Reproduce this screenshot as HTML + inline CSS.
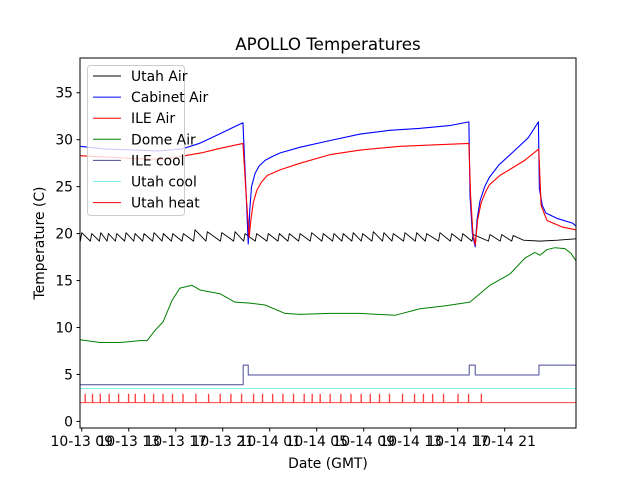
<!DOCTYPE html>
<html><head><meta charset="utf-8"><style>
body{margin:0;background:#fff}
svg{display:block;font-family:"DejaVu Sans","Liberation Sans",sans-serif}
</style></head><body>
<svg id="chart" width="640" height="480" viewBox="0 0 640 480">
<rect width="640" height="480" fill="#fff"/>
<text x="328" y="50" text-anchor="middle" font-size="16.7">APOLLO Temperatures</text>
<text x="328" y="468" text-anchor="middle" font-size="13.9">Date (GMT)</text>
<text transform="translate(44,243) rotate(-90)" text-anchor="middle" font-size="13.9">Temperature (C)</text>
<g id="plot"></g>
<g id="axes"></g>
<g id="legend"></g>
</svg>
<script>
// ---- data (hours since 10-13 09 GMT) ----
const xTickLabels = ["10-13 09","10-13 13","10-13 17","10-13 21","10-14 01","10-14 05","10-14 09","10-14 13","10-14 17","10-14 21"];
const yTicks = [0,5,10,15,20,25,30,35];
const cabinetT = [-0.15,2,4.5,6.5,8.5,10,11.7,13.2,13.72,14.0,14.17,14.3,14.45,14.75,15.1,15.6,16.2,16.9,18.6,21.1,23.7,26.2,28.7,31.3,32.95,33.05,33.25,33.49,33.65,33.9,34.3,34.7,35.5,36.8,38.0,38.87,38.95,39.2,39.5,40.5,41.8,42.07];
const cabinetV = [29.3,29.0,28.9,28.8,29.0,29.6,30.6,31.5,31.8,24,18.9,22.5,25.0,26.4,27.2,27.8,28.2,28.6,29.2,29.9,30.6,31.0,31.2,31.5,31.9,24,20,18.6,21.5,23.5,25.0,26.0,27.3,28.8,30.2,31.9,24.8,23.0,22.2,21.6,21.1,20.8];
const ileT = [-0.15,4.3,6.9,10.2,11.5,13.72,14.0,14.25,14.4,14.6,14.9,15.3,15.8,16.9,18.6,21.1,23.7,27.1,32.95,33.1,33.3,33.5,33.7,34.0,34.4,34.7,35.6,36.4,37.7,38.9,39.1,39.6,40.9,42.07];
const ileV = [28.3,28.0,27.9,28.6,29.0,29.6,24,19.6,21.5,23.3,24.6,25.5,26.2,26.8,27.5,28.4,28.9,29.3,29.6,24,20,18.8,21.5,23.3,24.5,25.2,26.2,26.8,27.8,29.0,23.0,21.4,20.7,20.4];
const domeT = [-0.15,1.56,3.26,4.96,5.56,6.24,6.92,7.69,8.36,9.38,10.06,11.76,13.05,14.32,15.6,17.3,18.58,21.13,23.68,26.66,28.79,30.91,33.04,34.74,36.45,37.73,38.58,39.0,39.6,40.28,41.13,41.64,42.07];
const domeV = [8.7,8.4,8.4,8.6,8.6,9.7,10.6,12.9,14.2,14.5,14.0,13.6,12.7,12.6,12.4,11.5,11.4,11.5,11.5,11.3,12.0,12.3,12.7,14.5,15.7,17.4,18.0,17.7,18.3,18.5,18.4,17.9,17.1];
const utahPeaks = [0,0.85,1.62,2.27,2.98,3.77,4.54,5.3,6.15,6.95,7.75,8.65,9.64,10.69,11.92,13.05,13.9,14.89,15.88,16.82,17.67,18.58,19.57,20.56,21.47,22.26,23.11,23.91,24.82,25.72,26.52,27.51,28.51,29.36,30.49,31.49,32.43,33.33,34.74,35.74,36.72];
const utahPeakV = [20.1,20.0,20.1,20.0,20.0,20.1,20.0,20.0,20.1,20.0,20.0,20.0,20.4,20.2,20.1,20.2,20.0,20.0,20.0,20.0,20.0,20.0,20.1,20.0,20.0,20.0,20.1,20.0,20.2,20.1,20.0,20.1,20.1,20.0,20.1,20.0,20.0,19.9,19.9,19.9,19.8];
const utahTroughV = 19.2;
const utahTailT = [37.6,39.0,40.5,42.07];
const utahTailV = [19.3,19.2,19.3,19.45];
const ileCoolT = [-0.15,13.74,13.74,14.17,14.17,32.98,32.98,33.49,33.49,38.92,38.92,42.07];
const ileCoolV = [3.9,3.9,6.0,6.0,4.95,4.95,6.0,6.0,4.95,4.95,6.0,6.0];
const utahCoolV = 3.5;
const heatBase = 2.0, heatOn = 2.9;
const heatTimes = [0.28,0.9,1.56,2.32,3.12,3.97,4.54,5.33,6.1,6.9,7.71,8.6,9.7,10.78,11.77,12.68,13.59,14.61,15.37,16.23,17.11,18.01,18.92,19.6,20.28,21.13,22.04,22.9,23.77,24.54,25.33,26.18,27.29,28.31,29.07,29.85,30.78,32.01,32.91,34.0];

// ---- axes ----
const L=80,R=576,T=58,B=428, H0=-0.15, H1=42.07, V0=-0.7, V1=38.7;
const X=h=>L+(h-H0)/(H1-H0)*(R-L);
const Y=v=>B-(v-V0)/(V1-V0)*(B-T);
const NS="http://www.w3.org/2000/svg";
function mk(tag,attrs,parent){const e=document.createElementNS(NS,tag);for(const k in attrs)e.setAttribute(k,attrs[k]);parent.appendChild(e);return e;}
const plot=document.getElementById('plot'), axes=document.getElementById('axes'), leg=document.getElementById('legend');
function line(ts,vs,color,name,w){
  const d=ts.map((t,i)=>(i?'L':'M')+X(t).toFixed(2)+','+Y(vs[i]).toFixed(2)).join('');
  const p=mk('path',{d:d,fill:'none',stroke:color,'stroke-width':w||1,'stroke-linejoin':'round'},plot);
  
  
}
// Utah heat
{const ts=[H0],vs=[heatBase];heatTimes.forEach(t=>{ts.push(t,t,t+0.03,t+0.03);vs.push(heatBase,heatOn,heatOn,heatBase);});ts.push(H1);vs.push(heatBase);line(ts,vs,'#ff4040','utah-heat-line',1);}
line([H0,H1],[utahCoolV,utahCoolV],'#7ff0f0','utah-cool-line',1);
line(ileCoolT,ileCoolV,'#4a4a9a','ile-cool-line',1);
line(domeT,domeV,'#008000','dome-air-line',1);
// Utah air sawtooth
{const ts=[H0],vs=[19.9];utahPeaks.forEach((p,i)=>{ts.push(p-0.12,p);vs.push(utahTroughV,utahPeakV[i]);});ts.push(...utahTailT);vs.push(...utahTailV);line(ts,vs,'#000','utah-air-line',0.9);}
line(cabinetT,cabinetV,'#0000ff','cabinet-air-line',1.1);
line(ileT,ileV,'#ff0000','ile-air-line',1.1);
// frame
mk('rect',{x:L,y:T,width:R-L,height:B-T,fill:'none',stroke:'#000','stroke-width':1},axes);
yTicks.forEach(v=>{
  const y=Y(v);
  const t=mk('line',{x1:L-3.5,x2:L,y1:y,y2:y,stroke:'#000'},axes);
  
  
  const tx=mk('text',{x:L-7,y:y+5,'text-anchor':'end','font-size':13.9},axes);tx.textContent=v;
  
  
});
xTickLabels.forEach((s,i)=>{
  const x=X(i*4);
  const t=mk('line',{x1:x,x2:x,y1:B,y2:B+3.5,stroke:'#000'},axes);
  
  
  const tx=mk('text',{x:x,y:B+18,'text-anchor':'middle','font-size':13.9},axes);tx.textContent=s;
  
  
});
// legend
const legNames=["Utah Air","Cabinet Air","ILE Air","Dome Air","ILE cool","Utah cool","Utah heat"];
const legColors=["#000","#0000ff","#ff0000","#008000","#4a4a9a","#7ff0f0","#ff0000"];
mk('rect',{x:87.5,y:65.5,width:97,height:150,rx:3,fill:'rgba(255,255,255,0.8)',stroke:'#ccc'},leg);
legNames.forEach((n,i)=>{
  const y=76+i*21.1;
  const l=mk('line',{x1:93,x2:121,y1:y,y2:y,stroke:legColors[i],'stroke-width':1},leg);
  
  
  const t=mk('text',{x:131,y:y+5,'font-size':13.9},leg);t.textContent=n;
  
  
});
</script>
</body></html>
